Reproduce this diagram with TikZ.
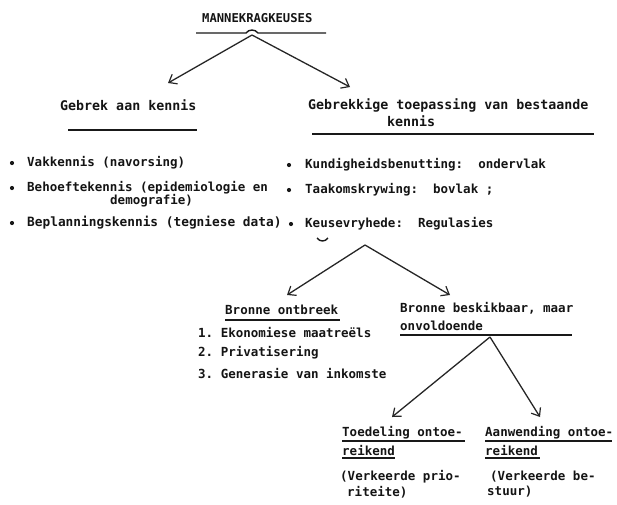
\documentclass[tikz,border=0pt]{standalone}
\usepackage{fontspec}
\setmonofont{DejaVu Sans Mono}
\usetikzlibrary{arrows.meta}
\begin{document}
\begin{tikzpicture}[x=1pt,y=-1pt,
  base/.style={inner sep=0pt,anchor=west,text=black!92},
  ttl/.style={base,font=\ttfamily\bfseries\fontsize{12.2}{14}\selectfont},
  hd/.style={base,font=\ttfamily\bfseries\fontsize{13.3}{16}\selectfont},
  tx/.style={base,font=\ttfamily\bfseries\fontsize{12.5}{15}\selectfont},
  arr/.style={-{Straight Barb[length=7pt,width=11pt,line width=1.2pt]},line width=1.3pt,black!85},
  ul/.style={line width=1.4pt,black!90},
  dot/.style={circle,fill=black!90,inner sep=0pt,minimum size=4.2pt}]
\useasboundingbox (0,0) rectangle (617,504);

% title
\node[ttl] (title) at (202,18) {MANNEKRAGKEUSES};
\draw[ul] (196,33) -- (246,33) .. controls (249,29) and (255,29) .. (258,33) -- (326,33);
\coordinate (a1) at (252,35);
\coordinate (a1l) at (168,83);
\coordinate (a1r) at (350,87);
\draw[arr] (a1) -- (a1l);
\draw[arr] (a1) -- (a1r);

% level 1
\node[hd] (gak) at (60,105) {Gebrek aan kennis};
\draw[ul] (68,130) -- (197,130);
\node[hd] (gtb) at (308,105) {Gebrekkige toepassing van bestaande};
\node[hd] (gtb2) at (387,121) {kennis};
\draw[ul] (312,134) -- (594,134);

% left bullets
\node[dot] (d1) at (12,163) {};
\node[tx] (l1) at (27,163) {Vakkennis (navorsing)};
\node[dot] (d2) at (12,188) {};
\node[tx] (l2) at (27,188) {Behoeftekennis (epidemiologie en};
\node[tx] (l2b) at (110,201) {demografie)};
\node[dot] (d3) at (12,223) {};
\node[tx,font=\ttfamily\bfseries\fontsize{12.8}{15}\selectfont] (l3) at (27,223) {Beplanningskennis (tegniese data)};

% right bullets
\node[dot] (e1) at (289,165) {};
\node[tx] (r1) at (305,165) {Kundigheidsbenutting:\ \ ondervlak};
\node[dot] (e2) at (289,190) {};
\node[tx] (r2) at (305,190) {Taakomskrywing:\ \ bovlak ;};
\node[dot] (e3) at (291,224) {};
\node[tx] (r3) at (305,224) {Keusevryhede:\ \ Regulasies};
\draw[ul] (317,238) .. controls (320,242) and (325,242) .. (328,238);

% fork 2
\coordinate (a2) at (365,245);
\coordinate (a2l) at (287,295);
\coordinate (a2r) at (450,295);
\draw[arr] (a2) -- (a2l);
\draw[arr] (a2) -- (a2r);

\node[tx] (bo) at (225,310) {Bronne ontbreek};
\draw[ul] (225,320) -- (340,320);
\node[tx] (bb) at (400,308) {Bronne beskikbaar, maar};
\node[tx] (bb2) at (400,326) {onvoldoende};
\draw[ul] (400,335) -- (572,335);

\node[tx] (n1) at (198,332) {1. Ekonomiese maatreëls};
\node[tx] (n2) at (198,353) {2. Privatisering};
\node[tx] (n3) at (198,373) {3. Generasie van inkomste};

% fork 3
\coordinate (a3) at (490,337);
\coordinate (a3l) at (392,417);
\coordinate (a3r) at (540,417);
\draw[arr] (a3) -- (a3l);
\draw[arr] (a3) -- (a3r);

\node[tx] (t1) at (342,433) {Toedeling ontoe-};
\node[tx] (t2) at (342,450) {reikend};
\draw[ul] (342,441) -- (465,441);
\draw[ul] (342,458) -- (395,458);
\node[tx] (t3) at (340,477) {(Verkeerde prio-};
\node[tx] (t4) at (347,492) {riteite)};

\node[tx] (w1) at (485,433) {Aanwending ontoe-};
\node[tx] (w2) at (485,450) {reikend};
\draw[ul] (485,441) -- (612,441);
\draw[ul] (485,458) -- (540,458);
\node[tx] (w3) at (490,477) {(Verkeerde be-};
\node[tx] (w4) at (487,492) {stuur)};
\end{tikzpicture}
\end{document}
